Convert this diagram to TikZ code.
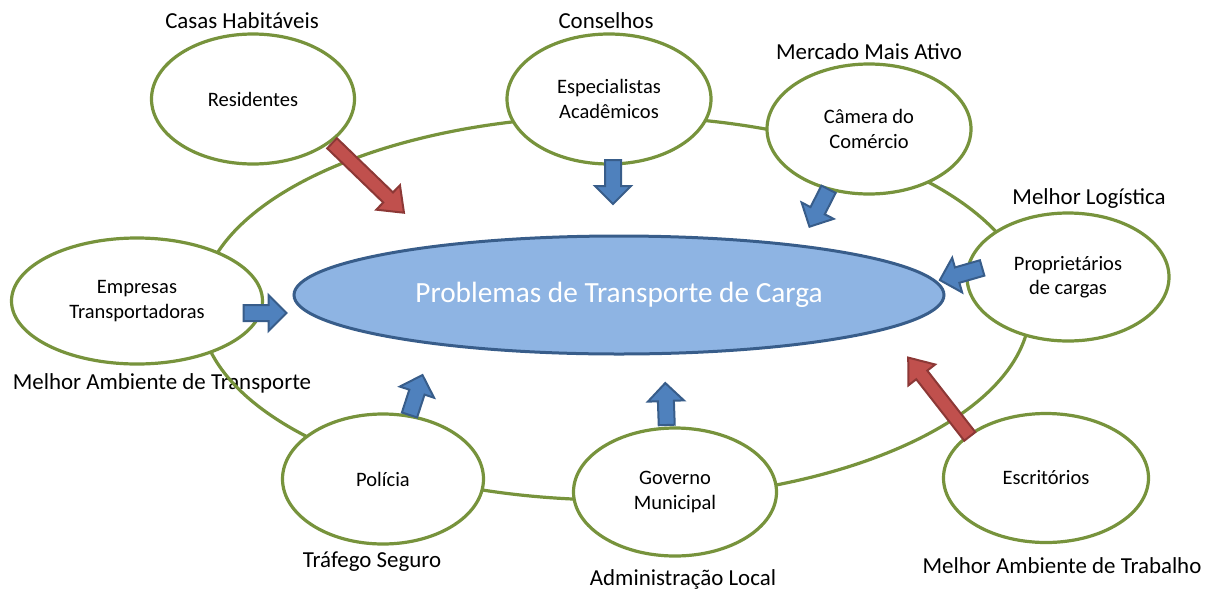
\documentclass[tikz,border=0pt]{standalone}
\usepackage{fontspec}
\setmainfont{Carlito}
\usetikzlibrary{shapes.geometric}
\definecolor{olive}{HTML}{77933C}
\definecolor{cfill}{HTML}{8EB4E3}
\definecolor{cline}{HTML}{385D8A}
\definecolor{bfill}{HTML}{4F81BD}
\definecolor{rfill}{HTML}{C0504D}
\definecolor{rline}{HTML}{8C3836}
\tikzset{
  ringline/.style={draw=olive, line width=3.2pt},
  actor/.style={ellipse, draw=olive, line width=3.2pt, fill=white, align=center, inner sep=0pt, font=\fontsize{20.5}{24.5}\selectfont},
  core/.style={ellipse, draw=cline, line width=3pt, fill=cfill, text=white, inner sep=0pt, font=\fontsize{29.3}{34}\selectfont},
  goal/.style={font=\fontsize{22.9}{27}\selectfont, inner sep=0pt},
  bluearrow/.style={draw=cline, fill=bfill, line width=2pt, line join=miter},
  redarrow/.style={draw=rline, fill=rfill, line width=2pt, line join=miter},
  pics/barrow/.style n args={4}{code={%
    \path[pic actions] ({-#1/2},{-#2}) -- ({#1/2-#4},{-#2}) -- ({#1/2-#4},{-#3}) -- ({#1/2},0)
      -- ({#1/2-#4},{#3}) -- ({#1/2-#4},{#2}) -- ({-#1/2},{#2}) -- cycle;}}
}
\begin{document}
\begin{tikzpicture}[x=1pt,y=-1pt]
\useasboundingbox (0,0) rectangle (1213,590);
% labels
\node[goal] (l1) at (242,21) {Casas Habitáveis};
\node[goal] (l2) at (606,21) {Conselhos};
\node[goal] (l3) at (869,52) {Mercado Mais Ativo};
\node[goal] (l4) at (1089,199) {Melhor Logística};
\node[goal] (l5) at (162,383) {Melhor Ambiente de Transporte};
\node[goal] (l6) at (372,562) {Tráfego Seguro};
\node[goal] (l7) at (683,579) {Administração Local};
\node[goal] (l8) at (1062,566) {Melhor Ambiente de Trabalho};
% ring
\node[ellipse, ringline, minimum width=830pt, minimum height=384pt, inner sep=0pt] (ring) at (615,308) {};
% actors
\node[actor, minimum width=203pt, minimum height=130pt] (res) at (253,99) {Residentes};
\node[actor, minimum width=204pt, minimum height=130pt] (esp) at (609,99) {Especialistas\\Acadêmicos};
\node[actor, minimum width=204pt, minimum height=130pt] (cam) at (869,129) {Câmera do\\Comércio};
\node[actor, minimum width=202pt, minimum height=128pt] (pro) at (1068,277) {Proprietários\\de cargas};
\node[actor, minimum width=251pt, minimum height=126pt] (emp) at (137,301) {Empresas\\Transportadoras};
\node[actor, minimum width=201pt, minimum height=130pt] (pol) at (383,479) {Polícia};
\node[actor, minimum width=203pt, minimum height=128pt] (gov) at (675,492) {Governo\\Municipal};
\node[actor, minimum width=205pt, minimum height=129pt] (esc) at (1046,478) {Escritórios};
% core
\node[core, minimum width=650pt, minimum height=118pt] (core) at (619,295) {Problemas de Transporte de Carga};
% arrows
\pic[redarrow, rotate=-44] (a1) at (368,178) {barrow={100}{7}{17}{22}};
\pic[bluearrow, rotate=-90] (a2) at (613,182) {barrow={44}{8}{18}{18}};
\pic[bluearrow, rotate=-117] (a3) at (819,208) {barrow={42}{8}{18}{18}};
\pic[bluearrow, rotate=196] (a4) at (961,274) {barrow={44}{8}{18}{18}};
\pic[bluearrow, rotate=0] (a5) at (265,313) {barrow={43}{8}{18}{18}};
\pic[bluearrow, rotate=72] (a6) at (416,395) {barrow={42}{8}{18}{18}};
\pic[bluearrow, rotate=92] (a7) at (666,404) {barrow={42}{8}{18}{18}};
\pic[redarrow, rotate=128] (a8) at (939,397) {barrow={100}{7}{17}{22}};
\end{tikzpicture}
\end{document}
